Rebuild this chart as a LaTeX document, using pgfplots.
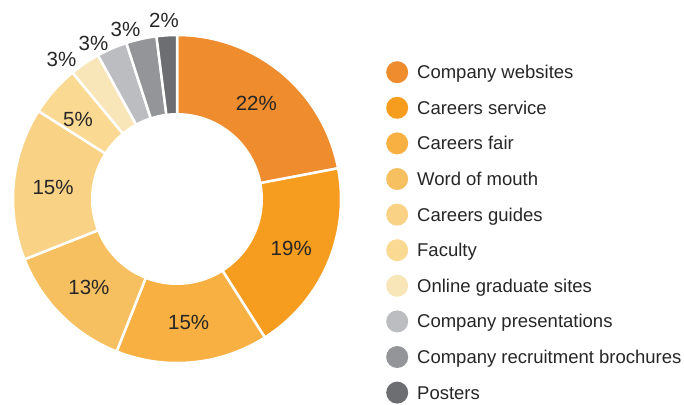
\documentclass[border=0pt]{standalone}
\usepackage{pgfplots}
\pgfplotsset{compat=1.18}
\usepackage{fontspec}
\setmainfont{Liberation Sans}
\definecolor{cA}{HTML}{EE8C2E}
\definecolor{cB}{HTML}{F69D1F}
\definecolor{cC}{HTML}{F8B043}
\definecolor{cD}{HTML}{F6BF5F}
\definecolor{cE}{HTML}{F9D286}
\definecolor{cF}{HTML}{FAD993}
\definecolor{cG}{HTML}{F9E6B8}
\definecolor{cH}{HTML}{BCBDC1}
\definecolor{cI}{HTML}{939598}
\definecolor{cJ}{HTML}{6D6E71}
\definecolor{txt}{HTML}{262626}
\pgfmathsetmacro\Rout{164}
\pgfmathsetmacro\Rin{86}
\pgfmathsetmacro\Rlab{124.5}
% #1 colour, #2 cumulative start (%), #3 share (%), #4 legend text
\newcommand\sector[4]{%
  \addplot[fill=#1, draw=white, line width=2.5pt,
    domain={90-3.6*(#2+#3)}:{90-3.6*#2}, samples=60]
    ({\Rout*cos(x)},{\Rout*sin(x)}) -- (0,0) -- cycle;
  \addlegendentry{#4}
}
% inner label: #1 start, #2 share
\newcommand\inlab[2]{%
  \node[font=\fontsize{20.5}{24}\selectfont, text=txt]
    at (axis cs:{\Rlab*cos(90-3.6*(#1+#2/2))},{\Rlab*sin(90-3.6*(#1+#2/2))}) {#2\%};
}
\begin{document}
\begin{tikzpicture}
\begin{axis}[
  x=1pt, y=1pt,
  xmin=-177, xmax=507, ymin=-205, ymax=199,
  hide axis, clip=false,
  legend image code/.code={\fill[#1,draw=none] (11pt,0pt) circle (11pt);},
  legend cell align=left,
  legend style={draw=none, fill=none, inner sep=0pt,
    at={(0.5643,0.849)}, anchor=north west,
    row sep=13.6pt, column sep=9pt,
    font=\fontsize{18.5}{22}\selectfont, text=txt,
    nodes={inner sep=0pt, text height=15pt, text depth=2pt}},
]
\sector{cA}{0}{22}{Company websites}
\sector{cB}{22}{19}{Careers service}
\sector{cC}{41}{15}{Careers fair}
\sector{cD}{56}{13}{Word of mouth}
\sector{cE}{69}{15}{Careers guides}
\sector{cF}{84}{5}{Faculty}
\sector{cG}{89}{3}{Online graduate sites}
\sector{cH}{92}{3}{Company presentations}
\sector{cI}{95}{3}{Company recruitment brochures}
\sector{cJ}{98}{2}{Posters}
\addplot[fill=white, draw=none, domain=0:360, samples=120, forget plot]
  ({\Rin*cos(x)},{\Rin*sin(x)}) -- cycle;
\inlab{0}{22}
\inlab{22}{19}
\inlab{41}{15}
\inlab{56}{13}
\inlab{69}{15}
\node[font=\fontsize{20.5}{24}\selectfont, text=txt] at (axis cs:-99,80) {5\%};
\node[font=\fontsize{20.5}{24}\selectfont, text=txt] at (axis cs:-115.5,139.5) {3\%};
\node[font=\fontsize{20.5}{24}\selectfont, text=txt] at (axis cs:-83.5,155.5) {3\%};
\node[font=\fontsize{20.5}{24}\selectfont, text=txt] at (axis cs:-51.5,169.5) {3\%};
\node[font=\fontsize{20.5}{24}\selectfont, text=txt] at (axis cs:-13,178.5) {2\%};
\end{axis}
\pgfresetboundingbox
\useasboundingbox (current axis.south west) rectangle (current axis.north east);
\end{tikzpicture}
\end{document}
